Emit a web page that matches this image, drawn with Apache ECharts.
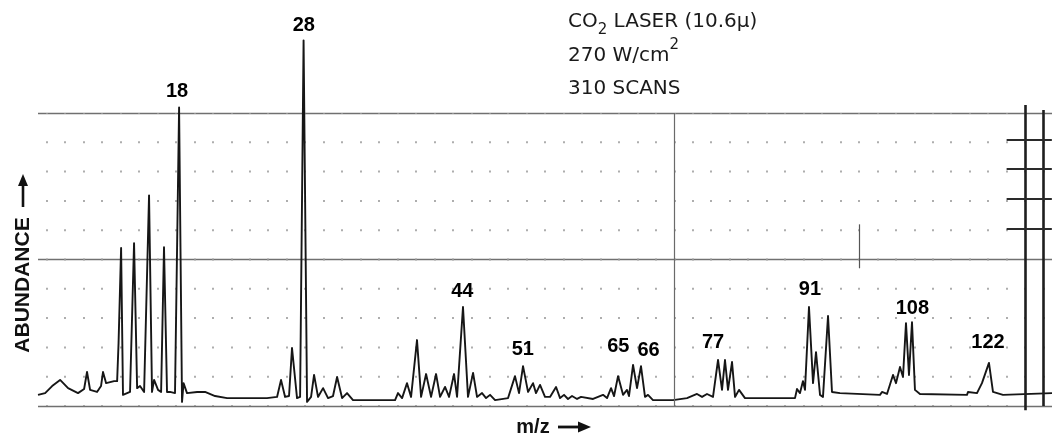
<!DOCTYPE html>
<html>
<head>
<meta charset="utf-8">
<script src="https://cdn.jsdelivr.net/npm/echarts@6/dist/echarts.min.js"></script>
<style>
html,body{margin:0;padding:0;background:#fff;}
#chart{width:1055px;height:439px;}
</style>
</head>
<body>
<div id="chart"></div>
<script>
// Mass spectrum trace (magnetic-sector scan: chart position ~ sqrt(m/z))
const traceMz = [9.34,9.71,10.08,10.51,10.95,11.51,11.86,12.03,12.21,12.62,12.86,12.98,13.17,13.66,13.85,13.94,14.10,14.22,14.67,14.93,15.13,15.32,15.59,15.92,16.12,16.26,16.53,16.74,16.94,17.15,17.36,17.71,18.00,18.21,18.32,18.57,19.31,19.90,20.66,21.59,24.82,25.67,26.01,26.36,26.70,26.96,27.40,27.67,27.98,28.29,28.65,28.92,29.28,29.74,30.20,30.66,31.04,31.51,31.98,32.55,36.71,37.01,37.43,37.94,38.36,38.98,39.41,39.94,40.47,41.01,41.44,41.98,42.42,42.97,43.30,43.96,44.52,45.09,45.54,46.11,46.57,47.03,47.61,49.13,49.95,50.43,50.91,51.51,52.12,52.48,52.97,53.58,54.20,54.95,55.45,55.95,56.45,56.96,57.60,58.11,59.66,60.96,61.49,62.02,62.42,62.95,63.62,64.15,64.42,64.97,65.51,66.05,66.60,67.01,67.70,70.50,72.49,73.93,74.66,75.38,76.26,77.00,77.59,78.03,78.48,79.08,79.53,80.13,81.03,88.78,89.10,89.57,90.05,90.37,91.01,91.66,92.14,92.79,93.27,94.09,94.74,96.05,102.76,103.10,103.96,104.99,105.51,106.20,106.72,107.24,107.76,108.29,108.81,109.69,118.13,118.31,119.96,120.88,121.25,122.18,122.93,124.80,134.18];
const traceAbundance = [3.8,4.4,6.8,8.9,6.1,4.4,5.8,11.6,5.5,4.8,6.8,11.6,7.8,8.5,8.5,21.5,53.9,3.8,4.8,55.6,6.1,6.8,4.8,71.9,4.8,8.9,5.5,4.8,54.2,4.8,4.8,4.4,101.9,1.4,7.8,4.4,4.8,4.8,3.4,2.7,2.7,3.1,8.9,3.1,3.4,19.8,2.7,3.1,124.8,1.4,3.1,10.6,3.1,6.1,2.7,3.4,9.9,2.7,4.4,2.0,2.0,4.4,2.7,7.8,3.1,22.5,3.1,10.9,3.1,10.9,3.1,6.5,3.1,10.9,3.1,33.8,3.1,11.3,3.1,4.4,2.7,3.8,2.0,2.7,10.2,4.4,13.6,4.8,7.8,4.4,7.2,3.1,3.1,6.5,2.7,3.8,2.4,3.4,2.4,3.1,2.4,3.8,2.7,6.1,3.4,10.2,3.8,5.5,3.4,14.0,6.1,13.6,3.1,3.8,2.0,2.0,2.7,4.1,3.1,4.1,3.1,15.7,5.5,15.7,5.5,15.0,3.1,5.5,2.7,2.7,5.8,4.4,8.5,5.5,33.8,7.8,18.4,3.8,3.1,30.7,4.8,4.4,3.8,4.8,4.1,10.6,7.8,13.3,9.9,28.3,10.6,28.6,5.5,4.1,3.8,4.8,4.4,7.8,7.2,14.7,4.8,3.8,4.4];
const peakLabelMz = [18, 28, 44, 51, 65, 66, 77, 91, 108, 122];
const mzRange = [9.34, 134.18];
const abundanceRange = [0, 100];

// label layout: [dx px, distance px]
const labelLayout = {18:[-2,6],28:[0,5],44:[-1,5],51:[-1,7],65:[-15,8],66:[8,6],77:[-5,8],91:[1,7],108:[2,4],122:[0,10]};

const pos = m => Math.sqrt(m);
const traceData = traceMz.map((m, i) => [pos(m), traceAbundance[i]]);
const labelData = peakLabelMz.map(L => {
  let top = 0;
  traceMz.forEach((m, i) => { if (Math.abs(m - L) < 0.45 && traceAbundance[i] > top) top = traceAbundance[i]; });
  const lay = labelLayout[L];
  return { name: String(L), value: [pos(L), top], label: { offset: [lay[0], 0], distance: lay[1] } };
});

const chart = echarts.init(document.getElementById('chart'), null, { renderer: 'canvas' });
const textFont = 'DejaVu Sans';
const boldFont = 'Liberation Sans';
const hidden = { axisLine: { show: false }, axisTick: { show: false }, axisLabel: { show: false } };

chart.setOption({
  animation: false,
  backgroundColor: '#ffffff',
  grid: [
    { left: 38, right: 3, top: 113, bottom: 33 },
    { left: 46.7, right: 11.5, top: 113, bottom: 33 },
    { left: 46.7, right: 2.23, top: 83.67, bottom: 3.67 }
  ],
  xAxis: [
    Object.assign({ type: 'value', gridIndex: 0, min: pos(mzRange[0]), max: pos(mzRange[1]), splitLine: { show: false } }, hidden),
    Object.assign({ type: 'value', gridIndex: 1, min: 0, max: 54, interval: 1,
      splitLine: { show: true, lineStyle: { color: '#9a9a9a', width: 1.6, type: [2, 27.3], dashOffset: 1 } } }, hidden),
    Object.assign({ type: 'value', gridIndex: 2, min: 0, max: 54.5, splitLine: { show: false } }, hidden)
  ],
  yAxis: [
    Object.assign({ type: 'value', gridIndex: 0, min: abundanceRange[0], max: abundanceRange[1], interval: 50,
      splitLine: { show: true, lineStyle: { color: '#707070', width: 1.3, type: 'solid' } } }, hidden),
    Object.assign({ type: 'value', gridIndex: 1, min: 0, max: 10, interval: 1, splitLine: { show: false } }, hidden),
    Object.assign({ type: 'value', gridIndex: 2, min: -1, max: 11, splitLine: { show: false } }, hidden)
  ],
  graphic: [
    { type: 'text', x: 568, y: 12, style: {
        text: '{a|CO}{s|2}{a| LASER (10.6μ)}',
        rich: {
          a: { fontFamily: textFont, fontSize: 20, lineHeight: 26, verticalAlign: 'top', fill: '#1a1a1a' },
          s: { fontFamily: textFont, fontSize: 15, lineHeight: 15, verticalAlign: 'bottom', fill: '#1a1a1a' }
        } } },
    { type: 'text', x: 568, y: 38, style: {
        text: '{a|270 W/cm}{p|2}',
        rich: {
          a: { fontFamily: textFont, fontSize: 20, lineHeight: 28, verticalAlign: 'bottom', fill: '#1a1a1a' },
          p: { fontFamily: textFont, fontSize: 15, lineHeight: 11, verticalAlign: 'top', fill: '#1a1a1a' }
        } } },
    { type: 'text', x: 568, y: 74.5, style: {
        text: '310 SCANS', font: '20px "DejaVu Sans"', fill: '#1a1a1a', lineHeight: 28 } },
    { type: 'text', x: 23, y: 285, rotation: Math.PI / 2, style: {
        text: 'ABUNDANCE', font: 'bold 21px "Liberation Sans"', fill: '#111', align: 'center', verticalAlign: 'middle' } },
    { type: 'line', shape: { x1: 23, y1: 207, x2: 23, y2: 184 }, style: { stroke: '#111', lineWidth: 2.6 } },
    { type: 'polygon', shape: { points: [[23, 174], [18, 186], [28, 186]] }, style: { fill: '#111' } },
    { type: 'text', x: 533, y: 427, style: {
        text: 'm/z', font: 'bold 20px "Liberation Sans"', fill: '#111', align: 'center', verticalAlign: 'middle' } },
    { type: 'line', shape: { x1: 558, y1: 427, x2: 580, y2: 427 }, style: { stroke: '#111', lineWidth: 2.8 } },
    { type: 'polygon', shape: { points: [[591, 427], [578, 421.5], [578, 432.5]] }, style: { fill: '#111' } }
  ],
  series: [
    { type: 'line', xAxisIndex: 1, yAxisIndex: 1, data: [[0, 0]], showSymbol: false, silent: true,
      lineStyle: { opacity: 0 }, clip: false,
      markLine: { symbol: 'none', silent: true, animation: false, label: { show: false },
        data: [
          { xAxis: 34, lineStyle: { color: '#6a6a6a', width: 1.2, type: 'solid' } },
          [{ coord: [44, 6.2], lineStyle: { color: '#555', width: 1.2, type: 'solid' } }, { coord: [44, 4.7] }]
        ] } },
    { type: 'line', xAxisIndex: 2, yAxisIndex: 2, data: [[0, 0]], showSymbol: false, silent: true,
      lineStyle: { opacity: 0 }, clip: false,
      markLine: { symbol: 'none', silent: true, animation: false, label: { show: false },
        lineStyle: { color: '#1e1e1e', width: 2.6, type: 'solid' },
        data: [
          [{ coord: [53, 10.27] }, { coord: [53, -0.14] }],
          [{ coord: [54, 10.1] }, { coord: [54, 0] }],
          [{ coord: [52, 9.1], lineStyle: { color: '#2a2a2a', width: 2 } }, { coord: [54.45, 9.1] }],
          [{ coord: [52, 8.08], lineStyle: { color: '#2a2a2a', width: 2 } }, { coord: [54.45, 8.08] }],
          [{ coord: [52, 7.06], lineStyle: { color: '#2a2a2a', width: 2 } }, { coord: [54.45, 7.06] }],
          [{ coord: [52, 6.04], lineStyle: { color: '#2a2a2a', width: 2 } }, { coord: [54.45, 6.04] }]
        ] } },
    { type: 'line', name: 'trace', xAxisIndex: 0, yAxisIndex: 0, data: traceData,
      showSymbol: false, symbol: 'none', clip: false, smooth: false,
      lineStyle: { color: '#161616', width: 1.9, join: 'round' } },
    { type: 'scatter', name: 'peaks', xAxisIndex: 0, yAxisIndex: 0, data: labelData,
      symbolSize: 0, clip: false, silent: true,
      itemStyle: { color: '#000' },
      label: { show: true, position: 'top', formatter: '{b}', color: '#000', opacity: 1,
        textBorderWidth: 0, fontFamily: boldFont, fontWeight: 'bold', fontSize: 20 } }
  ]
});
</script>
</body>
</html>
